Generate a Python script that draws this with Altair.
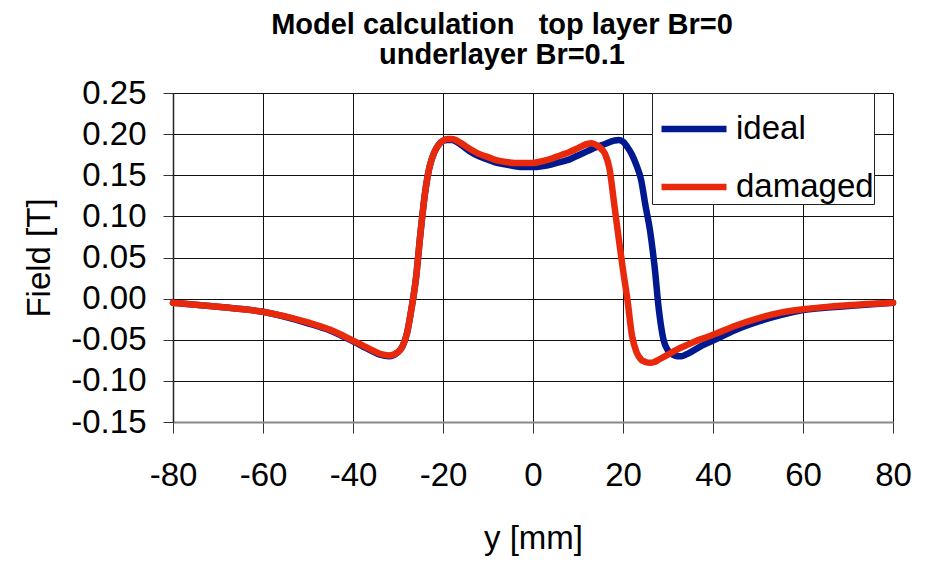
import altair as alt
import pandas as pd

# ---- data ----
ideal_x = [-80, -70, -60, -50, -45, -40, -36, -34, -32, -30, -29, -28, -27, -26, -25, -24, -23, -22, -21, -20,
           -19, -18, -16, -14, -12, -10, -8, -6, -4, -2, 0, 2, 4, 6, 8, 10, 12, 14, 16, 18, 19, 20, 21, 22, 23,
           24, 25, 26, 27, 28, 29, 30, 31, 32, 33, 34, 36, 38, 40, 45, 50, 55, 60, 70, 80]
ideal_y = [-0.005, -0.010, -0.016, -0.030, -0.039, -0.052, -0.063, -0.068, -0.070, -0.065, -0.058, -0.042,
           -0.012, 0.025, 0.080, 0.128, 0.160, 0.177, 0.187, 0.192, 0.193, 0.193, 0.187, 0.179, 0.173, 0.169,
           0.165, 0.163, 0.161, 0.160, 0.160, 0.161, 0.163, 0.166, 0.169, 0.174, 0.179, 0.184, 0.188, 0.192,
           0.193, 0.191, 0.184, 0.175, 0.162, 0.145, 0.113, 0.083, 0.040, -0.015, -0.050, -0.063, -0.068,
           -0.070, -0.070, -0.068, -0.062, -0.056, -0.051, -0.038, -0.028, -0.020, -0.014, -0.009, -0.005]

damaged_x = [-80, -70, -60, -50, -45, -40, -36, -34, -32, -30, -29, -28, -27, -26, -25, -24, -23, -22, -21, -20,
             -19, -18, -16, -14, -12, -10, -8, -6, -4, -2, 0, 2, 4, 6, 8, 10, 12, 13, 14, 15, 16, 17, 18, 19, 20,
             21, 22, 23, 24, 25, 26, 27, 28, 30, 32, 34, 36, 38, 40, 45, 50, 55, 60, 70, 80]
damaged_y = [-0.005, -0.010, -0.016, -0.029, -0.038, -0.051, -0.062, -0.067, -0.069, -0.065, -0.058, -0.042,
             -0.012, 0.025, 0.080, 0.128, 0.160, 0.177, 0.187, 0.192, 0.194, 0.194, 0.189, 0.182, 0.176, 0.172,
             0.168, 0.166, 0.165, 0.165, 0.165, 0.167, 0.170, 0.174, 0.178, 0.183, 0.188, 0.189, 0.187, 0.183,
             0.176, 0.158, 0.117, 0.075, 0.035, -0.002, -0.045, -0.065, -0.074, -0.077, -0.078, -0.077, -0.074,
             -0.068, -0.062, -0.057, -0.052, -0.048, -0.044, -0.033, -0.024, -0.017, -0.013, -0.008, -0.005]

series_names = ["ideal", "damaged"]
series_colors = ["#00198F", "#E8290B"]
x_ticks = [-80, -60, -40, -20, 0, 20, 40, 60, 80]
y_ticks = [-0.15, -0.10, -0.05, 0.00, 0.05, 0.10, 0.15, 0.20, 0.25]
title_lines = ["Model calculation\u00a0\u00a0\u00a0top layer Br=0", "underlayer Br=0.1"]

df = pd.concat([
    pd.DataFrame({"y": ideal_x, "field": ideal_y, "series": "ideal", "order": 0}),
    pd.DataFrame({"y": damaged_x, "field": damaged_y, "series": "damaged", "order": 1}),
])

FONT = "Liberation Sans"

chart = alt.Chart(df).mark_line(strokeWidth=6.5, interpolate="monotone", strokeCap="round", strokeJoin="round").encode(
    x=alt.X("y:Q", title="y [mm]",
            scale=alt.Scale(domain=[-80, 80], nice=False, zero=False),
            axis=alt.Axis(values=x_ticks,
                          labelExpr="datum.value < 0 ? '-' + format(-datum.value, 'd') : format(datum.value, 'd')",
                          labelFontSize=33, titleFontSize=33,
                          labelFont=FONT, titleFont=FONT, titleFontWeight="normal",
                          labelColor="black", titleColor="black",
                          tickSize=11, tickColor="#333", domainColor="#888", domainWidth=2,
                          labelPadding=26, titlePadding=30,
                          grid=True, gridColor="#111", gridWidth=1, labelFlush=False)),
    y=alt.Y("field:Q", title="Field [T]",
            scale=alt.Scale(domain=[-0.15, 0.25], nice=False, zero=False),
            axis=alt.Axis(values=y_ticks,
                          labelExpr="datum.value < -0.0001 ? '-' + format(-datum.value, '.2f') : format(abs(datum.value), '.2f')",
                          labelFontSize=33, titleFontSize=33,
                          labelFont=FONT, titleFont=FONT, titleFontWeight="normal",
                          labelColor="black", titleColor="black",
                          tickSize=10, tickColor="#333", domainColor="#222", domainWidth=1.5,
                          labelPadding=17, titlePadding=14,
                          grid=True, gridColor="#111", gridWidth=1, labelFlush=False)),
    color=alt.Color("series:N", scale=alt.Scale(domain=series_names, range=series_colors),
                    legend=alt.Legend(title=None, orient="none", legendX=479, legendY=0,
                                      symbolType="stroke", symbolSize=4225, symbolStrokeWidth=6.5,
                                      labelFontSize=33, labelFont=FONT, labelColor="black",
                                      labelOffset=6, rowPadding=5, padding=0, symbolOffset=6,
                                      labelExpr="datum.label + '\u00a0\u00a0\u00a0\u00a0'",
                                      strokeColor="#222", fillColor="white")),
    order=alt.Order("order:Q"),
).properties(
    width=720,
    height=329,
    title=alt.TitleParams(text=title_lines, fontSize=29, font=FONT, fontWeight="bold",
                          color="black", anchor="middle", frame="group", dx=-31, offset=7,
                          lineHeight=30),
    autosize=alt.AutoSizeParams(type="none"),
    padding={"left": 165, "top": 85, "right": 25, "bottom": 139},
).configure_view(
    stroke="#999", strokeWidth=2
).configure(background="white")

chart.save("out.html", embed_options={"renderer": "svg", "actions": False})
